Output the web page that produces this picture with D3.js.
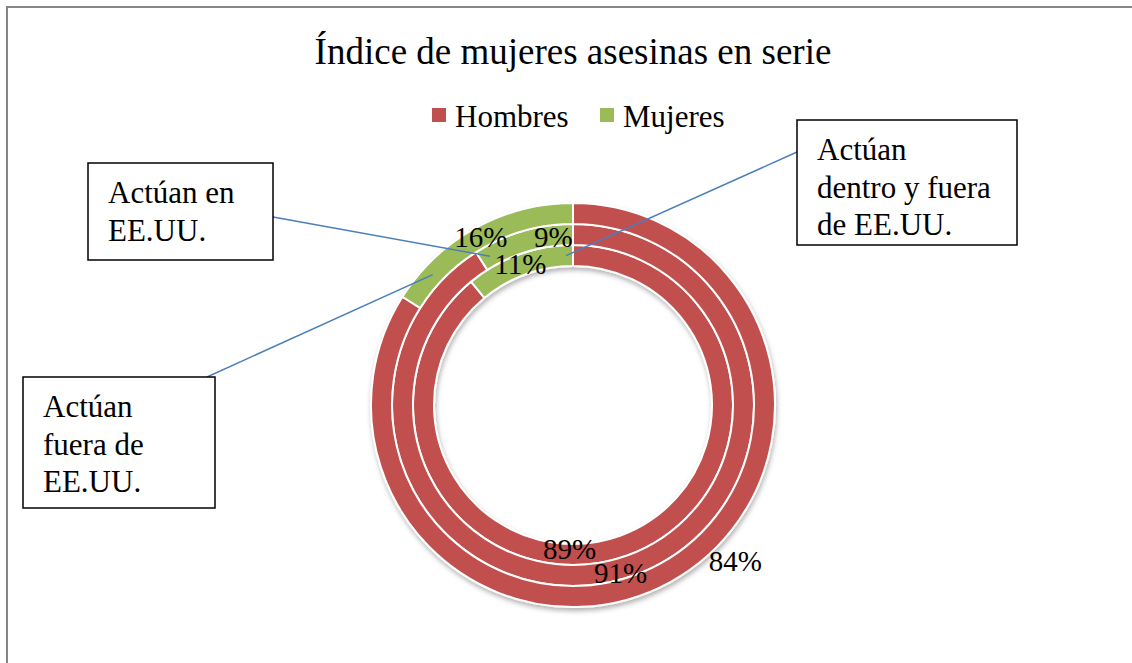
<!DOCTYPE html>
<html>
<head>
<meta charset="utf-8">
<script src="https://cdn.jsdelivr.net/npm/d3@7"></script>
<style>
  body { margin: 0; background: #fff; }
  svg { display: block; font-family: "Liberation Serif", "Times New Roman", serif; }
</style>
</head>
<body>
<div id="chart"></div>
<script>
// rings, from the inside out (first series is innermost, as in Excel)
const rings = ['Actúan dentro y fuera de EE.UU.', 'Actúan en EE.UU.', 'Actúan fuera de EE.UU.'];
const series = ['Hombres', 'Mujeres'];
const hombres = [89, 91, 84];
const mujeres = [11, 9, 16];
const title = 'Índice de mujeres asesinas en serie';

const width = 1132, height = 663;
const cx = 573, cy = 405;
const colors = { Hombres: '#C0504D', Mujeres: '#9BBB59' };

// Excel pushes some labels off the centroid to keep them apart
const labelNudge = {
    Hombres: [[-54, 3], [0, 4], [70, -12]],
    Mujeres: [[-2, 0], [28, -4], [0, 0]]
};

// callout boxes: which ring they point to, at what angle (deg)
const callouts = [
    { ring: 0, angle: 357.3, box: [797, 120, 220, 125], from: [797, 152], lines: ['Actúan', 'dentro y fuera', 'de EE.UU.'] },
    { ring: 1, angle: 330.8, box: [88, 163, 185, 97], from: [273, 217], lines: ['Actúan en', 'EE.UU.'] },
    { ring: 2, angle: 312.9, box: [23, 377, 192, 131], from: [207, 377], lines: ['Actúan', 'fuera de', 'EE.UU.'] }
];

const svg = d3.select('#chart').append('svg')
    .attr('width', width)
    .attr('height', height);

const defs = svg.append('defs');
const shadow = defs.append('filter').attr('id', 'shadow')
    .attr('x', '-20%').attr('y', '-20%').attr('width', '140%').attr('height', '140%');
shadow.append('feDropShadow')
    .attr('dx', 1).attr('dy', 3)
    .attr('stdDeviation', 2.5)
    .attr('flood-color', '#000')
    .attr('flood-opacity', 0.3);

// chart frame (runs off the right and bottom of the picture)
svg.append('rect')
    .attr('x', 7).attr('y', 7)
    .attr('width', 1140).attr('height', 700)
    .attr('fill', 'none')
    .attr('stroke', '#868686')
    .attr('stroke-width', 2);

svg.append('text')
    .attr('x', cx)
    .attr('y', 64)
    .attr('text-anchor', 'middle')
    .attr('font-size', 37)
    .text(title);

// legend
const legendX = [432, 600];
const legend = svg.append('g').attr('class', 'legend');
series.forEach((s, i) => {
    legend.append('rect')
        .attr('x', legendX[i]).attr('y', 108)
        .attr('width', 14).attr('height', 14)
        .attr('fill', colors[s]);
    legend.append('text')
        .attr('x', legendX[i] + 23)
        .attr('y', 127)
        .attr('font-size', 31)
        .text(s);
});

// radial bands for the rings
const radius = d3.scaleBand()
    .domain(rings)
    .range([139, 202])
    .paddingInner(0);

const pie = d3.pie().sort(null).value(d => d.value);
const arc = d3.arc();

const chart = svg.append('g')
    .attr('transform', `translate(${cx}, ${cy})`);

const ringGroup = chart.append('g').attr('filter', 'url(#shadow)');

const labels = [];
rings.forEach((ring, i) => {
    const r0 = radius(ring), r1 = r0 + radius.bandwidth();
    const slices = pie([
        { key: 'Hombres', value: hombres[i] },
        { key: 'Mujeres', value: mujeres[i] }
    ]);
    slices.forEach(s => {
        s.innerRadius = r0;
        s.outerRadius = r1;
        ringGroup.append('path')
            .attr('d', arc(s))
            .attr('fill', colors[s.data.key])
            .attr('stroke', '#fff')
            .attr('stroke-width', 2);
        const c = arc.centroid(s);
        const n = labelNudge[s.data.key][i];
        labels.push({ x: c[0] + n[0], y: c[1] + n[1], text: s.data.value + '%' });
    });
});

chart.selectAll('text.pct')
    .data(labels)
    .join('text')
    .attr('class', 'pct')
    .attr('x', d => d.x)
    .attr('y', d => d.y)
    .attr('text-anchor', 'middle')
    .attr('dominant-baseline', 'central')
    .attr('font-size', 29)
    .text(d => d.text);

// callouts
callouts.forEach(c => {
    const ring = rings[c.ring];
    const r = radius(ring) + radius.bandwidth() / 2;
    const a = c.angle * Math.PI / 180;
    const tx = cx + r * Math.sin(a), ty = cy - r * Math.cos(a);

    svg.append('line')
        .attr('x1', c.from[0]).attr('y1', c.from[1])
        .attr('x2', tx).attr('y2', ty)
        .attr('stroke', '#4A7EBB')
        .attr('stroke-width', 1.5);

    const [bx, by, bw, bh] = c.box;
    svg.append('rect')
        .attr('x', bx).attr('y', by)
        .attr('width', bw).attr('height', bh)
        .attr('fill', '#fff')
        .attr('stroke', '#000')
        .attr('stroke-width', 1.5);

    const t = svg.append('text')
        .attr('x', bx + 20)
        .attr('y', by + 40)
        .attr('font-size', 31);
    c.lines.forEach((l, k) => {
        t.append('tspan')
            .attr('x', bx + 20)
            .attr('dy', k === 0 ? 0 : 37.5)
            .text(l);
    });
});
</script>
</body>
</html>
